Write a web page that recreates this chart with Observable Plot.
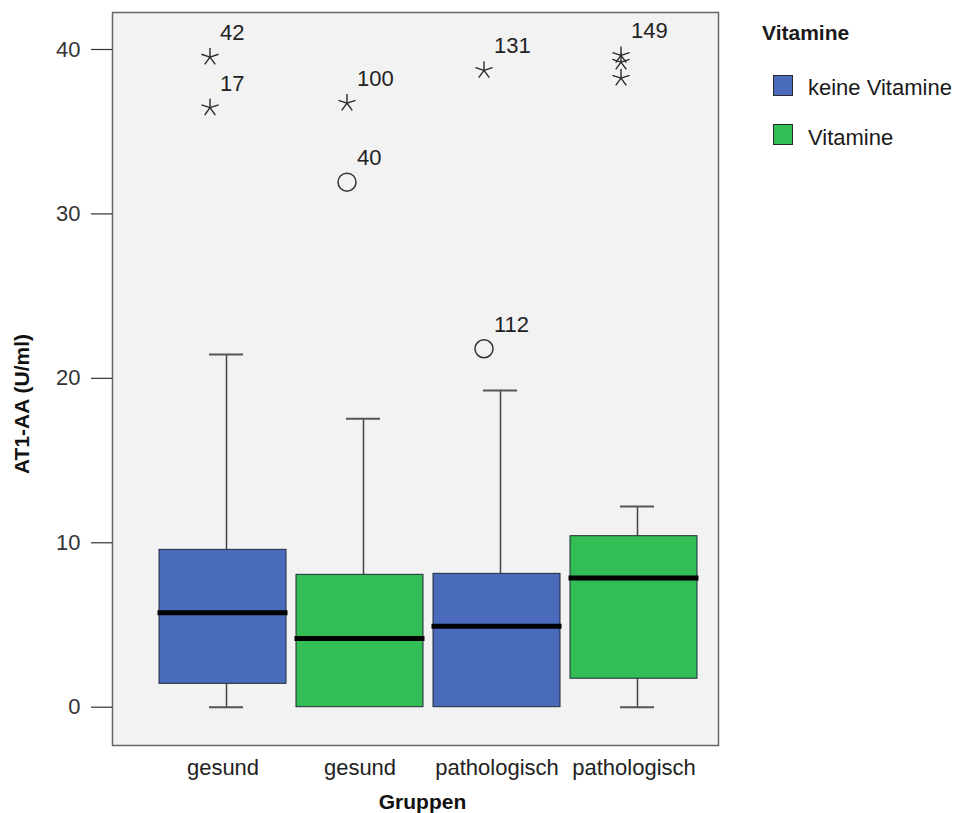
<!DOCTYPE html>
<html>
<head>
<meta charset="utf-8">
<script src="https://cdn.jsdelivr.net/npm/d3@7"></script>
<script src="https://cdn.jsdelivr.net/npm/@observablehq/plot@0.6"></script>
<style>
  html, body { margin: 0; padding: 0; background: #fff; }
  #wrap { position: relative; width: 961px; height: 813px; font-family: "Liberation Sans", Arial, Helvetica, sans-serif; }
  #chart { position: absolute; left: 0; top: 0; }
  .lg { position: absolute; font-size: 22px; line-height: 22px; color: #1a1a1a; white-space: nowrap; }
  .sw { position: absolute; width: 20px; height: 21px; border: 1px solid #2a2a2a; box-sizing: border-box; }
</style>
</head>
<body>
<div id="wrap"><div id="chart"></div><div id="legend"></div></div>
<script>
// ---- data ----
const boxKeys   = ["g-k", "g-v", "p-k", "p-v"];
const groups    = ["gesund", "gesund", "pathologisch", "pathologisch"];
const vitamin   = ["keine Vitamine", "Vitamine", "keine Vitamine", "Vitamine"];
const whiskerLo = [0, 0, 0, 0];
const q1        = [1.42, 0, 0, 1.73];
const medians   = [5.74, 4.18, 4.93, 7.85];
const q3        = [9.57, 8.05, 8.11, 10.4];
const whiskerHi = [21.45, 17.54, 19.26, 12.2];

const outlierBox   = [0, 0, 1, 1, 2, 2, 3, 3, 3];
const outlierValue = [39.54, 36.46, 36.74, 31.93, 38.73, 21.8, 39.64, 39.23, 38.26];
const outlierType  = ["extreme", "extreme", "extreme", "mild", "extreme", "mild", "extreme", "extreme", "extreme"];
const outlierLabel = ["42", "17", "100", "40", "131", "112", "149", "", ""];

const yTicks = [0, 10, 20, 30, 40];
const legendTitle = "Vitamine";
const legendDomain = ["keine Vitamine", "Vitamine"];
const legendColors = ["#4a6abb", "#33bd55"];

// ---- tables ----
const boxes = boxKeys.map((k, i) => ({
  key: k, group: groups[i], vit: vitamin[i],
  lo: whiskerLo[i], q1: q1[i], med: medians[i], q3: q3[i], hi: whiskerHi[i]
}));
const outliers = outlierBox.map((b, i) => ({
  key: boxKeys[b], value: outlierValue[i], type: outlierType[i], label: outlierLabel[i]
}));
const groupOf = Object.fromEntries(boxKeys.map((k, i) => [k, groups[i]]));

const star5 = {
  draw(context, size) {
    const r = Math.sqrt(size / Math.PI);
    for (let i = 0; i < 5; i++) {
      const a = -Math.PI / 2 + i * 2 * Math.PI / 5;
      context.moveTo(0, 0);
      context.lineTo(r * Math.cos(a), r * Math.sin(a));
    }
  }
};

const font = "'Liberation Sans', Arial, Helvetica, sans-serif";

const chart = Plot.plot({
  width: 961,
  height: 813,
  marginLeft: 112,
  marginRight: 243,
  marginTop: 12,
  marginBottom: 68,
  style: { fontFamily: font, fontSize: "22px", background: "transparent", color: "#1a1a1a" },
  x: { type: "band", domain: boxKeys, range: [149, 707], padding: 10 / 137, align: 0.5 },
  y: { domain: [-2.33, 42.25], nice: false },
  color: { domain: legendDomain, range: legendColors },
  marks: [
    Plot.frame({ fill: "#f2f2f2", stroke: "#666", strokeWidth: 1.5 }),
    Plot.axisY({ ticks: yTicks, tickSize: 21, tickPadding: 11, label: null, color: "#333", strokeWidth: 1.2 }),
    Plot.axisX({ tickSize: 0, tickPadding: 14, label: null, tickFormat: k => groupOf[k], color: "#222" }),
    // whiskers
    Plot.ruleX(boxes, { x: "key", y1: "lo", y2: "q1", dx: 3.5, stroke: "#444", strokeWidth: 1.5 }),
    Plot.ruleX(boxes, { x: "key", y1: "q3", y2: "hi", dx: 3.5, stroke: "#444", strokeWidth: 1.5 }),
    Plot.tickY(boxes.filter(d => d.q1 > d.lo), { x: "key", y: "lo", dx: 3.5, insetLeft: 46.5, insetRight: 46.5, stroke: "#555", strokeWidth: 2 }),
    Plot.tickY(boxes, { x: "key", y: "hi", dx: 3.5, insetLeft: 46.5, insetRight: 46.5, stroke: "#555", strokeWidth: 2 }),
    // boxes
    Plot.barY(boxes, { x: "key", y1: "q1", y2: "q3", fill: "vit", stroke: "#1f2a3a", strokeWidth: 1 }),
    Plot.tickY(boxes, { x: "key", y: "med", stroke: "#000", strokeWidth: 5, insetLeft: -1.5, insetRight: -1.5 }),
    // outliers
    Plot.dot(outliers.filter(d => d.type === "extreme"), { x: "key", y: "value", dx: -13, symbol: star5, r: 9, fill: "none", stroke: "#2a2a2a", strokeWidth: 1.4 }),
    Plot.dot(outliers.filter(d => d.type === "mild"), { x: "key", y: "value", dx: -13, symbol: "circle", r: 9, fill: "none", stroke: "#333", strokeWidth: 1.5 }),
    Plot.text(outliers.filter(d => d.label), { x: "key", y: "value", text: "label", dx: -3, dy: -24, textAnchor: "start", fill: "#222", fontSize: 22 }),
    // axis titles
    Plot.text([ "AT1-AA (U/ml)" ], { frameAnchor: "left", text: d => d, rotate: -90, textAnchor: "middle", lineAnchor: "middle", dx: -90, dy: 25, fontWeight: "bold", fontSize: 21, fill: "#111" }),
    Plot.text([ "Gruppen" ], { frameAnchor: "bottom", text: d => d, textAnchor: "middle", lineAnchor: "middle", dx: 7, dy: 57, fontWeight: "bold", fontSize: 21, fill: "#111" })
  ]
});
document.getElementById("chart").appendChild(chart);

// ---- legend ----
const lg = document.getElementById("legend");
const t = document.createElement("div");
t.className = "lg"; t.style.left = "762px"; t.style.top = "22px"; t.style.fontWeight = "bold"; t.style.fontSize = "21px";
t.textContent = legendTitle;
lg.appendChild(t);
legendDomain.forEach((name, i) => {
  const sw = document.createElement("div");
  sw.className = "sw"; sw.style.left = "773px"; sw.style.top = (75 + i * 49) + "px";
  sw.style.background = legendColors[i];
  lg.appendChild(sw);
  const lab = document.createElement("div");
  lab.className = "lg"; lab.style.left = "808px"; lab.style.top = (77 + i * 50) + "px";
  lab.textContent = name;
  lg.appendChild(lab);
});
</script>
</body>
</html>
